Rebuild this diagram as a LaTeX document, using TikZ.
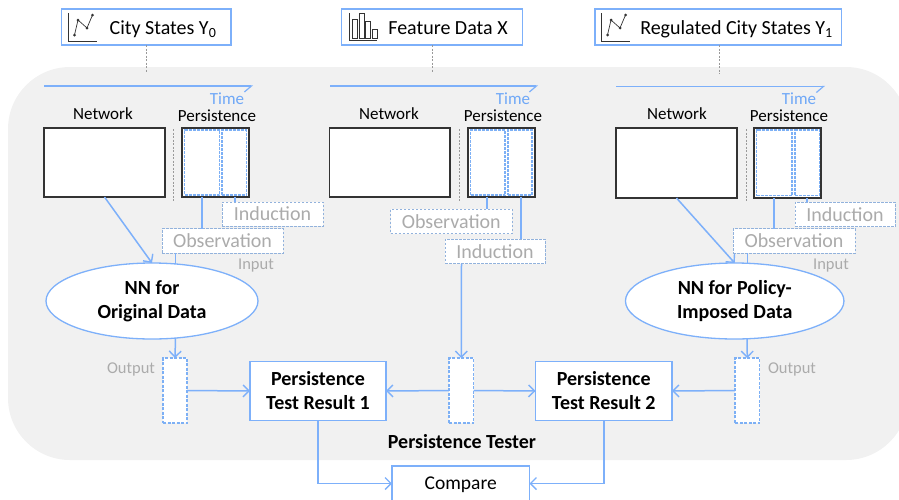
\documentclass[tikz,border=0pt]{standalone}
\usepackage{fontspec}
\setmainfont{Carlito}
\usetikzlibrary{arrows.meta,shapes.geometric}
\definecolor{lblue}{HTML}{7DB0FA}
\definecolor{tblue}{HTML}{6FA8F7}
\definecolor{dashblue}{HTML}{7DB0F5}
\definecolor{gdash}{HTML}{92B2DC}
\definecolor{gtext}{HTML}{ABABAB}
\definecolor{bgg}{HTML}{F1F1F1}
\definecolor{blk}{HTML}{333333}
\tikzset{
  rect/.style n args={4}{rectangle,inner sep=0pt,outer sep=0pt,
    minimum width={(#2-#1)*1pt},minimum height={(#4-#3)*1pt},
    at={({(#1+#2)/2},{(#3+#4)/2})}},
  topbox/.style={draw=lblue,fill=white,line width=1.3pt},
  blackbox/.style={draw=blk,fill=white,line width=1.2pt},
  slicebox/.style={draw=dashblue,line width=1.1pt,dash pattern=on 3pt off 1pt},
  greybox/.style={draw=gdash,fill=white,line width=1pt,dash pattern=on 2.5pt off 1.5pt,
    text=gtext,font=\fontsize{20}{22}\selectfont},
  vecbox/.style={draw=dashblue,fill=white,line width=1.1pt,dash pattern=on 3pt off 1.5pt},
  resbox/.style={draw=lblue,fill=white,line width=1.3pt,align=center,
    font=\fontsize{20}{24}\selectfont\bfseries},
  nnell/.style={ellipse,draw=lblue,fill=white,line width=1.3pt,inner sep=0pt,outer sep=0pt,
    align=center,font=\fontsize{20}{24}\selectfont\bfseries},
  lab/.style={inner sep=0pt,font=\fontsize{17}{20}\selectfont},
  toplab/.style={inner sep=0pt,font=\fontsize{20}{22}\selectfont},
  timelab/.style={lab,text=tblue},
  iolab/.style={inner sep=0pt,text=gtext,font=\fontsize{16.5}{18}\selectfont},
  conn/.style={draw=lblue,line width=1.5pt},
  arr/.style={conn,-{Straight Barb[length=6pt,width=12pt,line width=1.4pt]}},
  timearr/.style={conn,-{Straight Barb[harpoon,swap,length=7pt,width=12pt,line width=1.2pt]}},
  sep/.style={draw=gray!80,line width=1pt,dash pattern=on 2pt off 1.5pt},
  chartline/.style={draw=blk,line width=.7pt},
}
\begin{document}
\begin{tikzpicture}[x=1pt,y=-1pt]
\clip (0,0) rectangle (899,499);
\useasboundingbox (0,0) rectangle (899,499);
% panel
\fill[bgg,rounded corners=62pt] (8,67) rectangle (908,460);

% top boxes
\node[topbox,rect={61.5}{231}{9}{45}] (top1) {};
\node[topbox,rect={341.5}{522.5}{9}{45}] (top2) {};
\node[topbox,rect={595}{841.5}{9}{45}] (top3) {};
\node[toplab,anchor=base] at (163,34) {City States Y\textsubscript{0}};
\node[toplab,anchor=base] at (448,34) {Feature Data X};
\node[toplab,anchor=base] at (736.5,34) {Regulated City States Y\textsubscript{1}};

% icons
\foreach \dx in {0,533}{
  \begin{scope}[xshift=\dx pt]
  \draw[chartline] (68.5,13) -- (68.5,41) -- (97,41);
  \draw[chartline] (74.5,35) -- (78,20) -- (87,28) -- (92.5,15);
  \foreach \p in {(74.5,35),(78,20),(87,28),(92.5,15)} \fill[blk] \p circle (1.5pt);
  \end{scope}
}
\draw[chartline] (349,13) -- (349,40.5) -- (377,40.5);
\draw[chartline] (352.5,38) rectangle (357.5,19);
\draw[chartline] (359,38) rectangle (364,13);
\draw[chartline] (365.5,38) rectangle (370.5,21);
\draw[chartline] (372,38) rectangle (377,29);

% dotted stubs
\coordinate (s1) at (146.5,73);
\coordinate (s2) at (432.5,73);
\coordinate (s3) at (719.5,74);
\draw[sep] (top1.south -| s1) -- (s1);
\draw[sep] (top2.south -| s2) -- (s2);
\draw[sep] (top3.south -| s3) -- (s3);

% time arrows
\coordinate (t1a) at (44,86); \coordinate (t1b) at (253,86);
\coordinate (t2a) at (330,86); \coordinate (t2b) at (538,86);
\coordinate (t3a) at (616,86.5); \coordinate (t3b) at (825,86.5);
\draw[timearr] (t1a) -- (t1b);
\draw[timearr] (t2a) -- (t2b);
\draw[timearr] (t3a) -- (t3b);
\node[timelab] at (227,98.5) {Time};
\node[timelab] at (513,98.5) {Time};
\node[timelab] at (799,98.5) {Time};
\node[lab] at (103,114) {Network};
\node[lab] at (389,114) {Network};
\node[lab] at (677,114) {Network};
\node[lab] at (217,115.5) {Persistence};
\node[lab] at (503,115.5) {Persistence};
\node[lab] at (789,115.5) {Persistence};

% network and persistence boxes
\node[blackbox,rect={44}{165}{128}{197}] (net1) {};
\node[blackbox,rect={329.5}{450}{128}{197}] (net2) {};
\node[blackbox,rect={616}{737}{128}{198}] (net3) {};
\node[blackbox,rect={182}{249}{128}{197}] (per1) {};
\node[blackbox,rect={468}{535}{128}{197}] (per2) {};
\node[blackbox,rect={754}{821}{128}{198}] (per3) {};
\node[slicebox,rect={184.5}{219.5}{130}{195}] (a1) {};
\node[slicebox,rect={222}{246.5}{130}{195}] (b1) {};
\node[slicebox,rect={470.5}{505}{130}{195}] (a2) {};
\node[slicebox,rect={508}{532}{130}{195}] (b2) {};
\node[slicebox,rect={756.5}{792}{130}{195.5}] (a3) {};
\node[slicebox,rect={795}{819.5}{130}{195.5}] (b3) {};
\coordinate (v1a) at (173,129); \coordinate (v1b) at (173,201);
\coordinate (v2a) at (459,129); \coordinate (v2b) at (459,201);
\coordinate (v3a) at (746,129); \coordinate (v3b) at (746,201);
\draw[sep] (v1a) -- (v1b);
\draw[sep] (v2a) -- (v2b);
\draw[sep] (v3a) -- (v3b);

% observation and induction labels
\node[greybox,rect={222}{323}{202}{226}] (ind1) {Induction};
\node[greybox,rect={162}{283}{228.5}{253}] (obs1) {Observation};
\node[greybox,rect={390.5}{512}{209}{233.5}] (obs2) {Observation};
\node[greybox,rect={445}{545}{239}{263.5}] (ind2) {Induction};
\node[greybox,rect={795}{895}{202}{226.5}] (ind3) {Induction};
\node[greybox,rect={733}{855}{228.5}{253}] (obs3) {Observation};
\node[iolab] at (256,266) {Input};
\node[iolab] at (831,266) {Input};

% ellipses
\node[nnell,minimum width=212pt,minimum height=76pt] (ell1) at (152,301) {NN for\\Original Data};
\node[nnell,minimum width=218.5pt,minimum height=76pt] (ell2) at (734.7,301) {NN for Policy-\\Imposed Data};

% output slots
\node[vecbox,rect={163}{187}{358}{423}] (out1) {};
\node[vecbox,rect={449}{473.5}{358}{423}] (out2) {};
\node[vecbox,rect={735}{759.5}{358}{423}] (out3) {};
\node[iolab] at (131,369) {Output};
\node[iolab] at (792,369) {Output};

% results
\node[resbox,rect={250}{386}{361.5}{420.5}] (res1) {Persistence\\Test Result 1};
\node[resbox,rect={535.5}{672}{361.5}{420.5}] (res2) {Persistence\\Test Result 2};
\node[font=\fontsize{20}{22}\selectfont\bfseries,inner sep=0pt] at (462,442) {Persistence Tester};
\node[topbox,rect={392}{529.5}{466}{501},font=\fontsize{19.5}{22}\selectfont,text depth=0pt,yshift=0pt] (cmp) {Compare};

% connectors
\draw[conn] ([xshift=-13.5pt]per1.south) -- ([xshift=-20.5pt]obs1.north);
\draw[conn,line width=1.1pt] ([xshift=19.5pt]per1.south) -- ([xshift=-37.5pt]ind1.north);
\draw[conn] ([xshift=-47pt]obs1.south) -- ([shift={(23.5,1)}]ell1.north);
\draw[arr] (net1.south) -- (ell1.north);
\draw[arr] ([shift={(23.5,-1)}]ell1.south) -- (out1.north);

\draw[conn,line width=1.1pt] ([xshift=-14.5pt]per2.south) -- ([xshift=35.75pt]obs2.north);
\draw[conn] ([xshift=19.5pt]per2.south) -- ([xshift=26pt]ind2.north);
\draw[arr] ([xshift=-33.5pt]ind2.south) -- (out2.north);

\draw[conn] ([xshift=-13.5pt]per3.south) -- ([xshift=-20pt]obs3.north);
\draw[conn,line width=1.1pt] ([xshift=19.5pt]per3.south) -- ([xshift=-38pt]ind3.north);
\draw[conn] ([xshift=-46.5pt]obs3.south) -- ([shift={(12.8,1)}]ell2.north);
\draw[arr] (net3.south) -- (ell2.north);
\draw[arr] ([shift={(12.5,-1)}]ell2.south) -- (out3.north);

\draw[arr] (out1.east) -- (res1.west);
\draw[arr] (out2.west) -- (res1.east);
\draw[arr] (out2.east) -- (res2.west);
\draw[arr] (out3.west) -- (res2.east);
\draw[arr] (res1.south) |- (cmp.west);
\draw[arr] (res2.south) |- (cmp.east);
\end{tikzpicture}
\end{document}
